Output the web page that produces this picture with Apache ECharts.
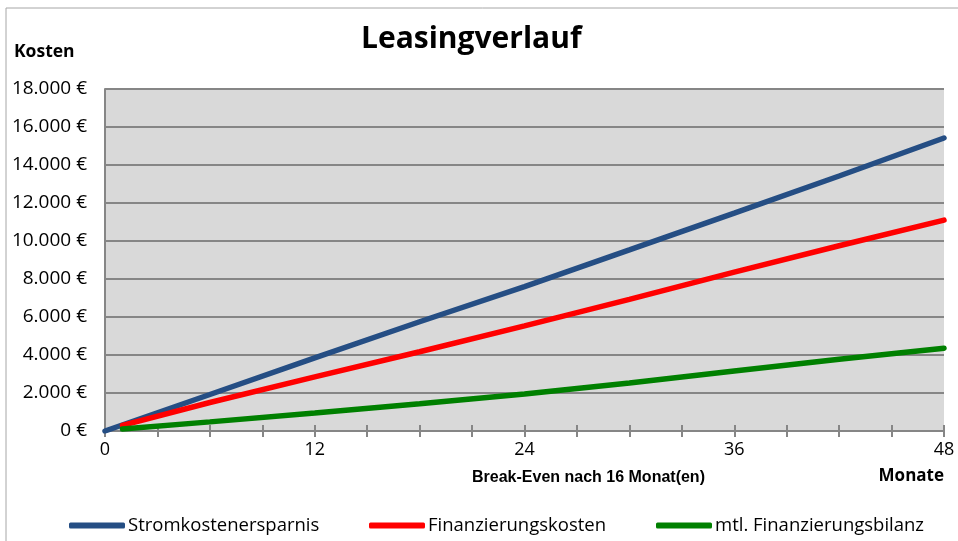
<!DOCTYPE html>
<html>
<head>
<meta charset="utf-8">
<script src="https://cdn.jsdelivr.net/npm/echarts@6/dist/echarts.min.js"></script>
<style>
  html, body { margin: 0; padding: 0; background: #fff; }
  #chart { width: 958px; height: 541px; }
</style>
</head>
<body>
<div id="chart"></div>
<script>
// Monate / Werte
var monateStrom = [0, 6, 12, 18, 24, 30, 36, 42, 48];
var stromkostenersparnis = [0, 1920, 3850, 5750, 7600, 9530, 11470, 13420, 15420];
var monateFin = [1, 6, 12, 18, 24, 30, 36, 42, 48];
var finanzierungskosten = [300, 1500, 2850, 4170, 5530, 6930, 8360, 9750, 11100];
var finanzierungsbilanz = [100, 480, 950, 1430, 1950, 2530, 3160, 3780, 4360];
var seriesNames = ['Stromkostenersparnis', 'Finanzierungskosten', 'mtl. Finanzierungsbilanz'];
var seriesColors = ['#254E84', '#FF0000', '#008000'];

function pairs(xs, ys) {
  return xs.map(function(x, i) { return [x, ys[i]]; });
}
function euro(v) {
  return String(v).replace(/\B(?=(\d{3})+(?!\d))/g, '.') + ' €';
}

var myChart = echarts.init(document.getElementById('chart'));
var font = '"Open Sans", "Noto Sans", sans-serif';

function legendAt(left, name) {
  return {
    data: [{ name: name, icon: 'roundRect' }],
    left: left,
    top: 516,
    padding: 0,
    itemWidth: 56,
    itemHeight: 6,
    textStyle: { fontFamily: font, fontSize: 18.5, color: '#000', padding: [0, 0, 0, -2] }
  };
}

function lineSeries(name, data, color) {
  return {
    name: name,
    type: 'line',
    data: data,
    symbol: 'none',
    smooth: false,
    lineStyle: { color: color, width: 5.5, cap: 'round' },
    itemStyle: { color: color },
    emphasis: { disabled: true }
  };
}

var tickStyle = { color: '#868686', width: 2 };

var option = {
  animation: false,
  backgroundColor: '#fff',
  grid: {
    left: 105, right: 14, top: 89, bottom: 110,
    show: true, backgroundColor: '#D9D9D9', borderWidth: 0
  },
  legend: [
    legendAt(69, seriesNames[0]),
    legendAt(369, seriesNames[1]),
    legendAt(656, seriesNames[2])
  ],
  xAxis: [{
    type: 'value',
    min: 0, max: 48, interval: 12,
    axisLine: { show: true, lineStyle: tickStyle },
    axisTick: { show: true, length: 6, lineStyle: tickStyle },
    minorTick: { show: true, splitNumber: 4, length: 6, lineStyle: tickStyle },
    splitLine: { show: false },
    axisLabel: { fontFamily: font, fontSize: 18, color: '#000', margin: 10 }
  }, {
    type: 'value',
    position: 'bottom',
    min: 0, max: 48, interval: 12,
    axisLine: { show: false },
    axisTick: { show: true, inside: true, length: 6, lineStyle: tickStyle },
    minorTick: { show: true, splitNumber: 4, length: 6, lineStyle: tickStyle },
    splitLine: { show: false },
    axisLabel: { show: false }
  }],
  yAxis: {
    type: 'value',
    min: 0, max: 18000, interval: 2000,
    axisLine: { show: true, lineStyle: tickStyle },
    axisTick: { show: false },
    splitLine: { show: true, lineStyle: tickStyle },
    axisLabel: {
      fontFamily: font, fontSize: 19, color: '#000', margin: 18,
      formatter: euro
    }
  },
  graphic: [
    { type: 'rect', silent: true, z: -1,
      shape: { x: 6, y: 8, width: 1000, height: 600 },
      style: { fill: 'none', stroke: '#A6A6A6', lineWidth: 1 } },
    { type: 'text', left: 361, top: 24,
      style: { text: 'Leasingverlauf', font: 'bold 30px ' + font, fill: '#000' } },
    { type: 'text', left: 14, top: 43,
      style: { text: 'Kosten', font: 'bold 17.5px ' + font, fill: '#000' } },
    { type: 'text', left: 472, top: 470,
      style: { text: 'Break-Even nach 16 Monat(en)', font: 'bold 16px "Liberation Sans", Arial, sans-serif', fill: '#000' } },
    { type: 'text', right: 14, top: 468,
      style: { text: 'Monate', font: 'bold 17px ' + font, fill: '#000' } }
  ],
  series: [
    lineSeries(seriesNames[0], pairs(monateStrom, stromkostenersparnis), seriesColors[0]),
    lineSeries(seriesNames[1], pairs(monateFin, finanzierungskosten), seriesColors[1]),
    lineSeries(seriesNames[2], pairs(monateFin, finanzierungsbilanz), seriesColors[2])
  ]
};

myChart.setOption(option);
window.addEventListener('resize', function() {
  myChart.resize();
});
</script>
</body>
</html>
